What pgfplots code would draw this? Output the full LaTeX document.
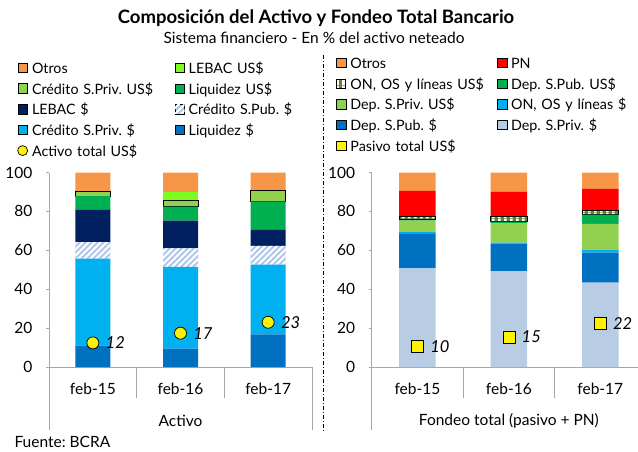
\documentclass[border=0pt]{standalone}
\usepackage{fontspec}
\setmainfont{Lato}
\usepackage{pgfplots}
\pgfplotsset{compat=1.18}
\usetikzlibrary{patterns}
\frenchspacing

\definecolor{cOtros}{HTML}{F79646}
\definecolor{cLebUS}{HTML}{7CFC1F}
\definecolor{cCpUS}{HTML}{92D050}
\definecolor{cLiqUS}{HTML}{00B050}
\definecolor{cLeb}{HTML}{002060}
\definecolor{cCpub}{HTML}{B4C7E7}
\definecolor{cCpriv}{HTML}{00B0F0}
\definecolor{cLiq}{HTML}{0070C0}
\definecolor{cDpriv}{HTML}{B8CCE4}
\definecolor{cPN}{HTML}{FF0000}
\definecolor{cOlive}{HTML}{6E7F32}
\definecolor{cAx}{HTML}{A6A6A6}

% white diagonal hatch and white vertical stripes
\pgfdeclarepatternformonly{diagw}{\pgfqpoint{-1pt}{-1pt}}{\pgfqpoint{7pt}{7pt}}{\pgfqpoint{6pt}{6pt}}{%
  \pgfsetlinewidth{1.8pt}\pgfpathmoveto{\pgfqpoint{-1pt}{-1pt}}\pgfpathlineto{\pgfqpoint{7pt}{7pt}}\pgfusepath{stroke}}
\pgfdeclarepatternformonly{vstripew}{\pgfqpoint{0pt}{0pt}}{\pgfqpoint{6pt}{6pt}}{\pgfqpoint{6pt}{6pt}}{%
  \pgfpathrectangle{\pgfqpoint{0pt}{0pt}}{\pgfqpoint{3pt}{6pt}}\pgfusepath{fill}}

\newcommand{\fs}{\fontsize{14.3}{16}\selectfont}
\newcommand{\fl}{\fontsize{15.5}{18}\selectfont}

\pgfplotsset{
  sqleg/.style={legend image code/.code={\draw[##1] (0pt,-4.65pt) rectangle (9.3pt,4.65pt);}},
  base/.style={
    scale only axis, height=194.5pt, anchor=south west,
    xmin=-0.5, xmax=2.5, ymin=0, ymax=100, enlargelimits=false,
    axis x line*=bottom, axis y line*=left,
    axis line style={cAx, line width=0.8pt},
    ytick={0,20,...,100}, xtick={0,1,2},
    xticklabels={feb-15,feb-16,feb-17},
    xtick style={draw=none}, ytick style={cAx, line width=0.8pt},
    tick align=outside, major tick length=3pt,
    tick label style={font=\fl},
    yticklabel style={xshift=-10pt},
    xticklabel style={yshift=-10pt},
    xlabel style={font=\fl, at={(axis description cs:0.5,0)}, anchor=center, yshift=-54pt},
    /pgf/number format/assume math mode=true,
    clip=false,
    legend columns=2, legend cell align=left,
    legend style={draw=none, fill=none, inner sep=0pt, outer sep=0pt,
      row sep=7.7pt, column sep=4pt, font=\fs, anchor=north west,
      nodes={inner sep=0pt, text height=12pt, text depth=1pt, align=left}},
  },
  over/.style={scale only axis, height=194.5pt, anchor=south west,
    xmin=-0.5, xmax=2.5, ymin=0, ymax=100, hide axis, clip=false},
}

\begin{document}
\begin{tikzpicture}[font=\fs]
\path[use as bounding box] (0,0) rectangle (638pt,-451pt);

\node[font=\bfseries\fontsize{18.5}{20}\selectfont] at (316pt,-18pt) {Composición del Activo y Fondeo Total Bancario};
\node[font=\fontsize{15.5}{18}\selectfont] at (314pt,-38pt) {Sistema financiero - En \% del activo neteado};
\node[anchor=base west, font=\fl] at (11pt,-447pt) {Fuente: BCRA};
\draw[dash pattern=on 4pt off 2pt on 1pt off 2pt, line width=0.7pt] (323pt,-55pt) -- (323pt,-432pt);

% ---------- Activo ----------
\begin{axis}[base, at={(49pt,-367pt)}, width=263pt,
  ybar stacked, bar width=35pt, xlabel={Activo},
  legend style={at={(axis description cs:-0.1205,1.5717)}, nodes={text width=139pt}}]
\addlegendimage{sqleg, fill=cOtros, draw=none}\addlegendentry{Otros}
\addlegendimage{sqleg, fill=cLebUS, draw=none}\addlegendentry{LEBAC US\$}
\addlegendimage{sqleg, fill=cCpUS, draw=black, line width=0.8pt}\addlegendentry{Crédito S.Priv. US\$}
\addlegendimage{sqleg, fill=cLiqUS, draw=none}\addlegendentry{Liquidez US\$}
\addlegendimage{sqleg, fill=cLeb, draw=none}\addlegendentry{LEBAC \$}
\addlegendimage{sqleg, fill=cCpub, draw=none, postaction={pattern=diagw, pattern color=white}}\addlegendentry{Crédito S.Pub. \$}
\addlegendimage{sqleg, fill=cCpriv, draw=none}\addlegendentry{Crédito S.Priv. \$}
\addlegendimage{sqleg, fill=cLiq, draw=none}\addlegendentry{Liquidez \$}
\addlegendimage{legend image code/.code={\draw[fill=yellow, draw=black, line width=0.7pt] (4.65pt,0pt) circle (5pt);}}\addlegendentry{Activo total US\$}

\addplot[fill=cLiq, draw=none] coordinates {(0,11.0) (1,9.4) (2,16.8)};
\addplot[fill=cCpriv, draw=none] coordinates {(0,44.7) (1,42.1) (2,35.9)};
\addplot[fill=cCpub, draw=none, postaction={pattern=diagw, pattern color=white}] coordinates {(0,8.5) (1,9.5) (2,9.6)};
\addplot[fill=cLeb, draw=none] coordinates {(0,16.6) (1,14.2) (2,8.2)};
\addplot[fill=cLiqUS, draw=none] coordinates {(0,7.0) (1,7.2) (2,14.6)};
\addplot[fill=cCpUS, draw=black, line width=0.8pt] coordinates {(0,2.6) (1,3.2) (2,5.7)};
\addplot[fill=cLebUS, draw=none] coordinates {(0,0) (1,4.5) (2,0)};
\addplot[fill=cOtros, draw=none] coordinates {(0,9.6) (1,9.9) (2,9.2)};

\draw[cAx, line width=0.8pt] (axis cs:-0.5,0) -- ++(0pt,-63pt);
\draw[cAx, line width=0.8pt] (axis cs:0.5,0) -- ++(0pt,-31pt);
\draw[cAx, line width=0.8pt] (axis cs:1.5,0) -- ++(0pt,-31pt);
\draw[cAx, line width=0.8pt] (axis cs:2.5,0) -- ++(0pt,-63pt);
\end{axis}

\begin{axis}[over, at={(49pt,-367pt)}, width=263pt]
\addplot[only marks, mark=*, mark size=6pt, mark options={fill=yellow, draw=black, line width=0.7pt},
  nodes near coords, point meta=explicit symbolic,
  every node near coord/.append style={anchor=west, xshift=12.5pt, inner sep=0pt, font=\itshape\fontsize{16.5}{18}\selectfont}]
  coordinates {(0,12.4) [12] (1,17.4) [17] (2,23.0) [23]};
\end{axis}

% ---------- Fondeo ----------
\begin{axis}[base, at={(371.7pt,-367pt)}, width=274.3pt,
  ybar stacked, bar width=36.5pt, xlabel={Fondeo total (pasivo + PN)},
  legend style={at={(axis description cs:-0.130,1.597)}, nodes={text width=143pt}}]
\addlegendimage{sqleg, fill=cOtros, draw=none}\addlegendentry{Otros}
\addlegendimage{sqleg, fill=cPN, draw=none}\addlegendentry{PN}
\addlegendimage{sqleg, fill=cOlive, draw=black, line width=0.8pt, postaction={pattern=vstripew, pattern color=white}}\addlegendentry{ON, OS y líneas US\$}
\addlegendimage{sqleg, fill=cLiqUS, draw=none}\addlegendentry{Dep. S.Pub. US\$}
\addlegendimage{sqleg, fill=cCpUS, draw=none}\addlegendentry{Dep. S.Priv. US\$}
\addlegendimage{sqleg, fill=cCpriv, draw=none}\addlegendentry{ON, OS y líneas \$}
\addlegendimage{sqleg, fill=cLiq, draw=none}\addlegendentry{Dep. S.Pub. \$}
\addlegendimage{sqleg, fill=cDpriv, draw=none}\addlegendentry{Dep. S.Priv. \$}
\addlegendimage{legend image code/.code={\draw[fill=yellow, draw=black, line width=0.7pt] (0pt,-4.8pt) rectangle (9.6pt,4.8pt);}}\addlegendentry{Pasivo total US\$}

\addplot[fill=cDpriv, draw=none] coordinates {(0,50.7) (1,49.3) (2,43.4)};
\addplot[fill=cLiq, draw=none] coordinates {(0,17.7) (1,14.1) (2,15.4)};
\addplot[fill=cCpriv, draw=none] coordinates {(0,0.9) (1,0.6) (2,1.5)};
\addplot[fill=cCpUS, draw=none] coordinates {(0,6.0) (1,10.0) (2,13.3)};
\addplot[fill=cLiqUS, draw=none] coordinates {(0,0.4) (1,0.8) (2,4.8)};
\addplot[fill=cOlive, draw=black, line width=0.8pt, postaction={pattern=vstripew, pattern color=white}] coordinates {(0,1.7) (1,2.4) (2,1.9)};
\addplot[fill=cPN, draw=none] coordinates {(0,13.1) (1,13.0) (2,11.3)};
\addplot[fill=cOtros, draw=none] coordinates {(0,9.5) (1,9.8) (2,8.4)};

\draw[cAx, line width=0.8pt] (axis cs:-0.5,0) -- ++(0pt,-63pt);
\draw[cAx, line width=0.8pt] (axis cs:0.5,0) -- ++(0pt,-31pt);
\draw[cAx, line width=0.8pt] (axis cs:1.5,0) -- ++(0pt,-31pt);
\end{axis}

\begin{axis}[over, at={(371.7pt,-367pt)}, width=274.3pt]
\addplot[only marks, mark=square*, mark size=6pt, mark options={fill=yellow, draw=black, line width=0.7pt},
  nodes near coords, point meta=explicit symbolic,
  every node near coord/.append style={anchor=west, xshift=12.5pt, inner sep=0pt, font=\itshape\fontsize{16.5}{18}\selectfont}]
  coordinates {(0,10.4) [10] (1,15.4) [15] (2,22.2) [22]};
\end{axis}
\end{tikzpicture}
\end{document}
